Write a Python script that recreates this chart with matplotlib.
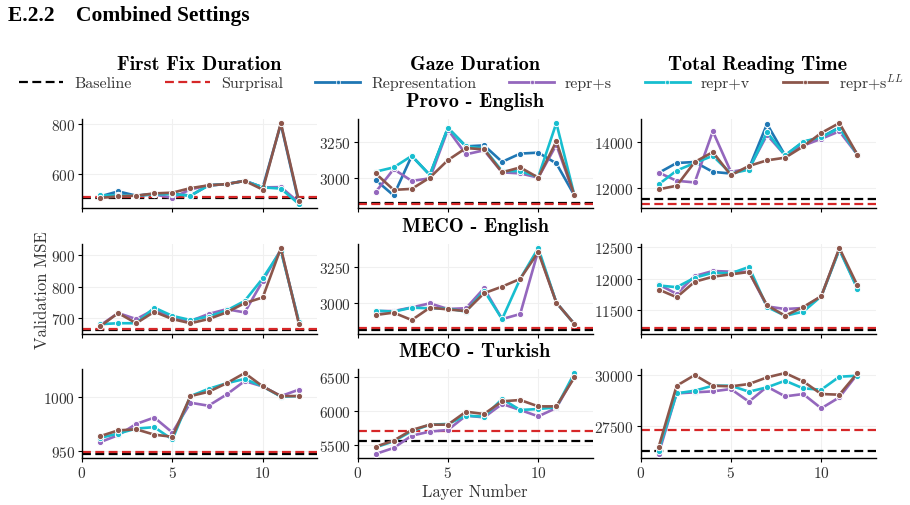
import numpy as np
import matplotlib.pyplot as plt
from matplotlib.lines import Line2D

plt.rcParams['font.family'] = 'serif'
plt.rcParams['font.serif'] = ['cmr10']
plt.rcParams['mathtext.fontset'] = 'cm'
plt.rcParams['axes.formatter.use_mathtext'] = True

layers = np.arange(1, 13)

## colours
c_base = 'black'
c_surp = '#d62728'
c_repr = '#1f77b4'
c_rs = '#9467bd'
c_rv = '#17becf'
c_rsll = '#8c564b'

## Provo - English
provo_ffd_repr = [512, 532, 515, 522, 524, 515, 556, 561, 574, 548, 800, 486]
provo_ffd_rs = [508, 516, 515, 520, 506, 540, 556, 561, 574, 548, 549, 488]
provo_ffd_rv = [516, 516, 515, 520, 521, 515, 556, 561, 574, 548, 543, 482]
provo_ffd_rsll = [506, 512, 515, 524, 527, 545, 556, 561, 574, 539, 804, 493]
provo_ffd_base = [504, 508]

provo_gd_repr = [2984, 2875, 3153, 3019, 3350, 3220, 3227, 3111, 3169, 3176, 3100, 2875]
provo_gd_rs = [2898, 3060, 2977, 2995, 3338, 3164, 3192, 3037, 3030, 3000, 3231, 2875]
provo_gd_rv = [3042, 3072, 3153, 3019, 3350, 3220, 3205, 3046, 3046, 3005, 3384, 2875]
provo_gd_rsll = [3030, 2914, 2921, 3000, 3123, 3208, 3199, 3037, 3072, 3000, 3255, 2875]
provo_gd_base = [2822, 2815]

provo_trt_repr = [12650, 13087, 13130, 12696, 12623, 12850, 14797, 13420, 14000, 14217, 14650, 13449]
provo_trt_rs = [12667, 12304, 12232, 14478, 12700, 12830, 14319, 13420, 13850, 14150, 14478, 13449]
provo_trt_rv = [12145, 12754, 13087, 13400, 12623, 12797, 14435, 13420, 14029, 14217, 14623, 13449]
provo_trt_rsll = [11928, 12087, 13130, 13565, 12551, 12957, 13203, 13319, 13812, 14406, 14841, 13449]
provo_trt_base = [11504, 11287]

## MECO - English
meco_en_ffd_rs = [678, 717, 698, 728, 704, 692, 714, 729, 719, 818, 916, 688]
meco_en_ffd_rv = [682, 685, 685, 734, 708, 695, 706, 725, 755, 826, 913, 690]
meco_en_ffd_rsll = [675, 717, 685, 721, 698, 685, 698, 719, 748, 766, 921, 683]
meco_en_ffd_base = [664, 667]

meco_en_gd_rs = [2940, 2940, 2966, 2995, 2955, 2960, 3102, 2883, 2919, 3371, 3000, 2848]
meco_en_gd_rv = [2943, 2936, 2964, 2960, 2958, 2936, 3086, 2883, 3169, 3388, 3000, 2848]
meco_en_gd_rsll = [2912, 2929, 2876, 2964, 2952, 2940, 3067, 3114, 3169, 3360, 3000, 2848]
meco_en_gd_base = [2806, 2817]

meco_en_trt_rs = [11909, 11760, 12043, 12123, 12112, 12110, 11560, 11519, 11535, 11722, 12470, 11850]
meco_en_trt_rv = [11893, 11866, 12016, 12096, 12086, 12187, 11551, 11412, 11476, 11722, 12460, 11840]
meco_en_trt_rsll = [11829, 11706, 11952, 12032, 12070, 12107, 11578, 11412, 11551, 11722, 12487, 11893]
meco_en_trt_base = [11187, 11225]

## MECO - Turkish
meco_tr_ffd_rs = [958, 964.5, 975, 981, 967, 994.8, 992, 1002.5, 1015, 1010, 1001, 1007]
meco_tr_ffd_rv = [962, 966, 970.7, 972, 960.5, 1001, 1007.7, 1013, 1017, 1010, 1000.5, 1001]
meco_tr_ffd_rsll = [963.6, 969, 970, 965, 963, 1001, 1005, 1013, 1022.5, 1010, 1001, 1001]
meco_tr_ffd_base = [947, 948.8]

meco_tr_gd_rs = [5366, 5454, 5634, 5693, 5717, 5927, 5902, 6098, 6010, 5917, 6039, 6510]
meco_tr_gd_rv = [5463, 5551, 5700, 5795, 5805, 5927, 5912, 6171, 6010, 6024, 6049, 6551]
meco_tr_gd_rsll = [5473, 5561, 5717, 5795, 5795, 5985, 5951, 6137, 6156, 6063, 6063, 6488]
meco_tr_gd_base = [5551, 5698]

meco_tr_trt_rs = [26111, 29085, 29134, 29183, 29297, 28676, 29412, 28938, 29052, 28350, 28889, 30030]
meco_tr_trt_rv = [26275, 29085, 29216, 29461, 29460, 29167, 29379, 29706, 29330, 29265, 29902, 29951]
meco_tr_trt_rsll = [26438, 29461, 29984, 29461, 29428, 29543, 29869, 30082, 29673, 29052, 29020, 30082]
meco_tr_trt_base = [26275, 27288]

panels = [
    [(provo_ffd_repr, provo_ffd_rs, provo_ffd_rv, provo_ffd_rsll, provo_ffd_base, [600, 800]),
     (provo_gd_repr, provo_gd_rs, provo_gd_rv, provo_gd_rsll, provo_gd_base, [3000, 3250]),
     (provo_trt_repr, provo_trt_rs, provo_trt_rv, provo_trt_rsll, provo_trt_base, [12000, 14000])],
    [(None, meco_en_ffd_rs, meco_en_ffd_rv, meco_en_ffd_rsll, meco_en_ffd_base, [700, 800, 900]),
     (None, meco_en_gd_rs, meco_en_gd_rv, meco_en_gd_rsll, meco_en_gd_base, [3000, 3250]),
     (None, meco_en_trt_rs, meco_en_trt_rv, meco_en_trt_rsll, meco_en_trt_base, [11500, 12000, 12500])],
    [(None, meco_tr_ffd_rs, meco_tr_ffd_rv, meco_tr_ffd_rsll, meco_tr_ffd_base, [950, 1000]),
     (None, meco_tr_gd_rs, meco_tr_gd_rv, meco_tr_gd_rsll, meco_tr_gd_base, [5500, 6000, 6500]),
     (None, meco_tr_trt_rs, meco_tr_trt_rv, meco_tr_trt_rsll, meco_tr_trt_base, [27500, 30000])],
]

col_titles = ['First Fix Duration', 'Gaze Duration', 'Total Reading Time']
row_titles = ['Provo - English', 'MECO - English', 'MECO - Turkish']

W, H = 910, 506
fig = plt.figure(figsize=(W / 100, H / 100), dpi=100)

col_left = [82, 357.5, 640.5]
ax_w = 235
row_top = [120, 245, 370]
row_bot = [209, 335, 459]

line_kw = dict(lw=1.9, marker='o', markersize=4.5, markeredgecolor='white', markeredgewidth=0.7)

for r in range(3):
    for c in range(3):
        repr_, rs, rv, rsll, base, yt = panels[r][c]
        ax = fig.add_axes([col_left[c] / W, 1 - row_bot[r] / H, ax_w / W, (row_bot[r] - row_top[r]) / H])
        ax.axhline(base[0], color=c_base, ls=(0, (4, 2)), lw=1.6, zorder=2)
        ax.axhline(base[1], color=c_surp, ls=(0, (4, 2)), lw=1.6, zorder=2)
        if repr_ is not None:
            ax.plot(layers, repr_, color=c_repr, zorder=3, **line_kw)
        ax.plot(layers, rs, color=c_rs, zorder=3, **line_kw)
        ax.plot(layers, rv, color=c_rv, zorder=3, **line_kw)
        ax.plot(layers, rsll, color=c_rsll, zorder=3, **line_kw)
        allv = list(rs) + list(rv) + list(rsll) + list(base)
        if repr_ is not None:
            allv += list(repr_)
        lo, hi = min(allv), max(allv)
        pad = 0.05 * (hi - lo)
        ax.set_ylim(lo - pad, hi + pad)
        ax.set_xlim(0, 13)
        ax.set_xticks([0, 5, 10])
        ax.set_yticks(yt)
        ax.grid(True, color='#f0f0f0', lw=0.8, zorder=0)
        for s in ['top', 'right']:
            ax.spines[s].set_visible(False)
        ax.spines['left'].set_linewidth(1.0)
        ax.spines['bottom'].set_linewidth(1.0)
        ax.tick_params(labelsize=11, length=3, width=0.8, pad=2, labelcolor='#333333')
        if r < 2:
            ax.set_xticklabels([])
        if r == 2 and c == 1:
            ax.set_xlabel('Layer Number', fontsize=12, labelpad=2, color='#333333')

fig.text(42 / W, 1 - 290 / H, 'Validation MSE', rotation=90, fontsize=12, ha='center', va='center', color='#333333')

for c in range(3):
    fig.text((col_left[c] + ax_w / 2) / W, 1 - 65 / H, col_titles[c], family='cmb10', fontsize=14.5, ha='center', va='center')
for r in range(3):
    fig.text((col_left[1] + ax_w / 2) / W, 1 - (row_top[r] - 18) / H, row_titles[r], family='cmb10', fontsize=14.5, ha='center', va='center')

fig.text(8 / W, 1 - 16 / H, 'E.2.2    Combined Settings', family='Liberation Serif', weight='bold', fontsize=15.5, ha='left', va='center')

hkw = dict(lw=2, marker='o', markersize=3, markeredgecolor='white', markeredgewidth=0.5)
handles = [
    Line2D([], [], color=c_base, ls=(0, (4, 2)), lw=1.6),
    Line2D([], [], color=c_surp, ls=(0, (4, 2)), lw=1.6),
    Line2D([], [], color=c_repr, **hkw),
    Line2D([], [], color=c_rs, **hkw),
    Line2D([], [], color=c_rv, **hkw),
    Line2D([], [], color=c_rsll, **hkw),
]
labels = ['Baseline', 'Surprisal', 'Representation', 'repr+s', 'repr+v', r'repr+s$^{LL}$']
leg = fig.legend(handles, labels, loc='center', bbox_to_anchor=(0.5 + 6 / W, 1 - 83 / H), ncol=6, frameon=False,
                 fontsize=11.5, handlelength=2.8, handletextpad=0.7, columnspacing=2.05, borderpad=0, borderaxespad=0)
for t in leg.get_texts():
    t.set_color('#333333')

fig.savefig('out.png', dpi=100)
